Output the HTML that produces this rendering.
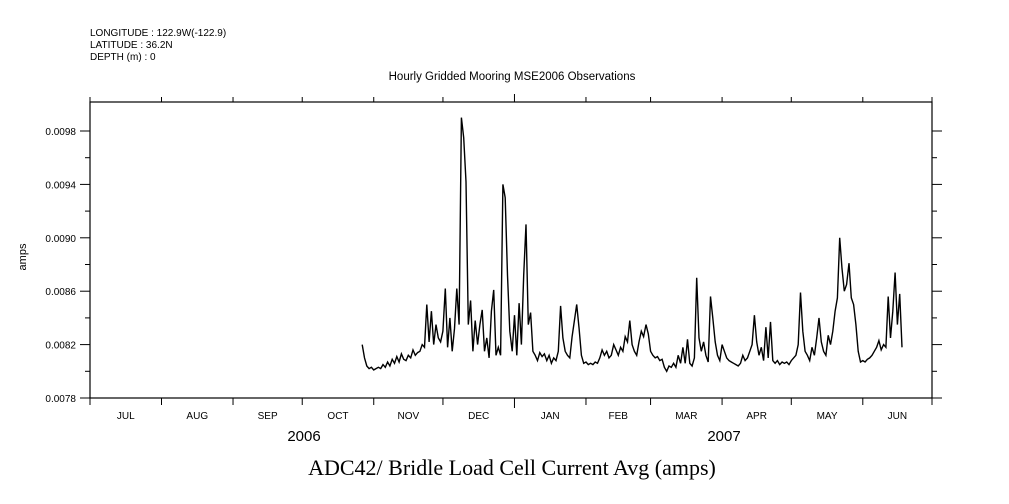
<!DOCTYPE html>
<html><head><meta charset="utf-8"><style>
body{margin:0;background:#fff;width:1009px;height:504px;overflow:hidden}
svg{display:block}
text{font-family:"Liberation Sans",sans-serif;fill:#000}
</style></head><body>
<svg id="chart" width="1009" height="504" viewBox="0 0 1009 504">
<g font-size="10">
<text x="90" y="36">LONGITUDE : 122.9W(-122.9)</text>
<text x="90" y="48">LATITUDE : 36.2N</text>
<text x="90" y="60">DEPTH (m) : 0</text>
</g>
<text x="512" y="80" font-size="11.5" text-anchor="middle">Hourly Gridded Mooring MSE2006 Observations</text>
<rect x="90" y="102" width="842" height="296" fill="none" stroke="#000" stroke-width="1.2"/>
<g id="axes"></g>
<g id="series"></g>
<text transform="translate(26,257) rotate(-90)" font-size="11" text-anchor="middle">amps</text>
<text x="304" y="441" font-size="15" text-anchor="middle">2006</text>
<text x="724" y="441" font-size="15" text-anchor="middle">2007</text>
<text x="512" y="475" font-size="22" text-anchor="middle" style="font-family:'Liberation Serif',serif">ADC42/ Bridle Load Cell Current Avg (amps)</text>
</svg>
<script>
// y ticks (amps)
const yTicks=[0.0078,0.0082,0.0086,0.0090,0.0094,0.0098];
const yTickLabels=["0.0078","0.0082","0.0086","0.0090","0.0094","0.0098"];
const months=["JUL","AUG","SEP","OCT","NOV","DEC","JAN","FEB","MAR","APR","MAY","JUN"];
const monthStartDays=[0,31,62,92,123,153,184,215,243,274,304,335,365];
// series: daily values (units of 1e-5 amps), starting day 118 after Jul 1 2006
const startDay=118;
const values=[820,810,804,802,803,801,802,803,802,805,803,807,804,809,806,811,807,813,809,808,812,810,816,812,814,815,820,818,850,822,845,820,835,825,822,830,862,818,840,815,832,862,835,990,975,942,835,853,815,838,820,835,846,815,825,810,845,861,812,818,812,940,930,872,830,815,842,812,851,820,872,910,835,844,815,812,808,814,811,813,808,812,806,810,808,815,849,825,815,812,810,826,838,850,832,812,806,807,805,806,805,807,806,810,816,812,815,810,812,820,816,812,818,815,826,822,838,820,815,812,822,830,826,835,828,815,812,810,811,808,809,803,800,804,803,806,803,812,806,818,806,824,806,804,810,870,825,815,822,812,807,856,840,822,812,808,820,815,810,808,807,806,805,804,806,812,808,810,815,820,842,822,812,818,808,833,810,837,808,806,808,805,807,806,807,805,808,810,812,820,859,830,815,812,808,818,812,825,840,822,815,812,827,820,830,845,855,900,877,860,865,881,855,850,835,815,807,808,807,809,810,812,815,818,823,816,820,818,856,825,845,874,835,858,818];
const X0=90,X1=932,Y0=398,Y1=102,YMIN=0.0078,YMAX=0.0078+(398-102)/133.5*0.001;
const NS="http://www.w3.org/2000/svg";
function xs(d){return X0+d/365*(X1-X0);}
function ys(v){return Y0-(v-YMIN)/(YMAX-YMIN)*(Y0-Y1);}
function mk(tag,attrs,parent){const e=document.createElementNS(NS,tag);for(const k in attrs)e.setAttribute(k,attrs[k]);parent.appendChild(e);return e;}
const ax=document.getElementById('axes');
yTicks.forEach((t,i)=>{
  const y=ys(t);
  const l=mk('line',{x1:80,x2:90,y1:y,y2:y,stroke:'#000'},ax);
  
  
  const r=mk('line',{x1:932,x2:942,y1:y,y2:y,stroke:'#000'},ax);
  
  
  const tx=mk('text',{x:76,y:y+4,'font-size':10,'text-anchor':'end'},ax);
  tx.textContent=yTickLabels[i];
  
  
  if(i<yTicks.length-1){
    const ym=ys(t+0.0002);
    const m=mk('line',{x1:85,x2:90,y1:ym,y2:ym,stroke:'#000'},ax);
    
    
    const m2=mk('line',{x1:932,x2:937,y1:ym,y2:ym,stroke:'#000'},ax);
    
    
  }
});
monthStartDays.forEach((d,i)=>{
  const x=xs(d);
  const big=(d===184);
  const b=mk('line',{x1:x,x2:x,y1:398,y2:big?408:405,stroke:'#000'},ax);
  
  
  const t=mk('line',{x1:x,x2:x,y1:102,y2:big?94:97,stroke:'#000'},ax);
  
  
  if(i<months.length){
    const xm=(xs(d)+xs(monthStartDays[i+1]))/2;
    const tx=mk('text',{x:xm,y:419,'font-size':10,'text-anchor':'middle'},ax);
    tx.textContent=months[i];
    
    
  }
});
const pts=values.map((v,i)=>xs(startDay+i).toFixed(1)+','+ys(v*1e-5).toFixed(1)).join(' ');
const pl=mk('polyline',{points:pts,fill:'none',stroke:'#000','stroke-width':1.4,'stroke-linejoin':'miter'},document.getElementById('series'));


</script>
</body></html>
